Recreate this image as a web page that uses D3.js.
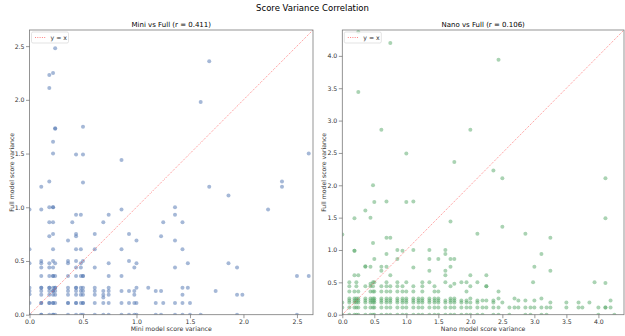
<!DOCTYPE html>
<html>
<head>
<meta charset="utf-8">
<script src="https://cdn.jsdelivr.net/npm/d3@7"></script>
<style>
  body { margin: 0; background: #fff; }
  svg { font-family: "DejaVu Sans", sans-serif; }
</style>
</head>
<body>
<div id="chart"></div>
<script>
// Mini vs Full: columns of x value with the full-model variances seen at it
// (repeated values are overlapping runs that show up darker)
const miniColumns = [
  { x: 0.00, ys: [0, 0.11, 0.19, 0.22, 0.25, 0.48, 0.61, 0.98] },
  { x: 0.11, ys: [0, 0, 0.11, 0.11, 0.185, 0.22, 0.25, 0.25, 0.36, 0.44, 0.48, 0.5, 0.98, 1.19] },
  { x: 0.185, ys: [0, 0.11, 0.11, 0.185, 0.22, 0.25, 0.25, 0.36, 0.44, 0.48, 0.73, 0.86, 1.0, 1.24, 2.11, 2.23] },
  { x: 0.22, ys: [0, 0, 0.11, 0.11, 0.185, 0.22, 0.22, 0.25, 0.36, 0.36, 0.44, 0.5, 0.61, 0.75, 0.86, 1.0, 1.0, 1.5, 1.61, 2.25] },
  { x: 0.24, ys: [0, 0.11, 0.185, 0.22, 0.25, 0.25, 0.36, 0.48, 1.73, 1.735, 2.48] },
  { x: 0.36, ys: [0, 0.11, 0.11, 0.185, 0.22, 0.25, 0.36, 0.48, 0.5, 0.69] },
  { x: 0.40, ys: [0.86] },
  { x: 0.435, ys: [0, 0.11, 0.11, 0.185, 0.22, 0.25, 0.25, 0.36, 0.44, 0.5, 0.61, 0.73, 0.75, 0.93, 1.49] },
  { x: 0.48, ys: [0, 0.11, 0.185, 0.22, 0.25, 0.36, 0.44, 0.48, 0.61, 0.93] },
  { x: 0.50, ys: [0, 0.11, 0.11, 0.185, 0.22, 0.25, 0.36, 0.36, 0.5, 1.23, 1.49, 1.75] },
  { x: 0.61, ys: [0, 0.11, 0.185, 0.22, 0.25, 0.44, 0.61, 0.75] },
  { x: 0.69, ys: [0, 0.11, 0.16, 0.185, 0.22, 0.86] },
  { x: 0.74, ys: [0, 0.11, 0.185, 0.22, 0.25, 0.36, 0.48, 0.93] },
  { x: 0.86, ys: [0, 0.11, 0.22, 0.36, 0.61, 0.98, 1.44] },
  { x: 0.93, ys: [0, 0.11, 0.22, 0.5, 0.75] },
  { x: 0.98, ys: [0, 0.11, 0.185, 0.22, 0.44] },
  { x: 1.00, ys: [0, 0.11, 0.25, 0.48, 0.69] },
  { x: 1.11, ys: [0.25] },
  { x: 1.18, ys: [0, 0.11, 0.22] },
  { x: 1.23, ys: [0, 0.22, 0.73] },
  { x: 1.25, ys: [0.11, 0.86] },
  { x: 1.36, ys: [0, 0.11, 0.44, 0.69, 0.93, 1.0] },
  { x: 1.43, ys: [0, 0.11, 0.185, 0.25, 0.61, 0.86] },
  { x: 1.48, ys: [0.25, 0.48] },
  { x: 1.50, ys: [0, 0.11] },
  { x: 1.60, ys: [0, 1.98] },
  { x: 1.68, ys: [1.19, 2.36] },
  { x: 1.74, ys: [0.22] },
  { x: 1.86, ys: [0.48, 1.11] },
  { x: 1.94, ys: [0, 0.185, 0.44] },
  { x: 1.99, ys: [0.185] },
  { x: 2.23, ys: [0.98] },
  { x: 2.36, ys: [1.19, 1.24] },
  { x: 2.50, ys: [0, 0.36] },
  { x: 2.61, ys: [0.36, 1.5] }
];

// Nano vs Full
const nanoColumns = [
  { x: 0.00, ys: [0, 0.11, 0.19, 1.24] },
  { x: 0.11, ys: [0, 0.11, 0.19, 0.22, 0.25, 0.36, 0.44, 0.5] },
  { x: 0.19, ys: [0, 0.11, 0.19, 0.22, 0.25, 0.36, 0.61, 0.99, 0.99, 1.49] },
  { x: 0.22, ys: [0, 0.11, 0.19, 0.22, 0.25, 0.44, 0.5] },
  { x: 0.25, ys: [0, 0.11, 0.19, 0.22, 0.25, 0.36, 0.61, 3.44, 4.37] },
  { x: 0.36, ys: [0, 0.11, 0.19, 0.22, 0.25, 0.44, 0.74, 0.75, 1.61] },
  { x: 0.44, ys: [0, 0.11, 0.19, 0.22, 0.25, 0.36, 0.44, 0.48, 0.74, 1.5] },
  { x: 0.48, ys: [0, 0.11, 0.19, 0.22, 0.25, 0.36, 0.44, 0.5, 1.11, 2.0] },
  { x: 0.50, ys: [0, 0.11, 0.19, 0.22, 0.25, 0.36, 0.5, 0.86, 1.74] },
  { x: 0.61, ys: [0, 0.11, 0.19, 0.22, 0.25, 0.36, 0.44, 0.68, 0.74, 2.86] },
  { x: 0.69, ys: [0, 0.11, 0.19, 0.22, 0.25, 0.36, 0.44, 0.5, 0.74, 0.94, 1.19, 1.75] },
  { x: 0.75, ys: [0, 0.11, 0.19, 0.22, 0.25, 0.36, 0.44, 0.61, 1.19, 4.2] },
  { x: 0.86, ys: [0, 0.11, 0.19, 0.22, 0.25, 0.36, 0.44, 0.5, 0.86, 1.0] },
  { x: 0.94, ys: [0, 0.11, 0.19, 0.22, 0.25, 0.36, 0.44, 0.99] },
  { x: 1.00, ys: [0, 0.11, 0.19, 0.22, 0.25, 0.36, 0.5, 1.74, 2.49] },
  { x: 1.11, ys: [0, 0.11, 0.19, 0.22, 0.25, 0.36, 0.44, 0.73, 1.0, 1.75] },
  { x: 1.19, ys: [0, 0.11, 0.19, 0.22, 0.25] },
  { x: 1.25, ys: [0, 0.11, 0.19, 0.22, 0.25, 0.36, 0.44, 0.5] },
  { x: 1.36, ys: [0, 0.11, 0.19, 0.22, 0.25, 0.5, 0.68, 0.86, 1.0] },
  { x: 1.44, ys: [0, 0.11, 0.19, 0.22, 0.25, 0.36, 0.44] },
  { x: 1.50, ys: [0, 0.11, 0.19, 0.22, 0.25, 0.36, 0.86] },
  { x: 1.61, ys: [0, 0.11, 0.19, 0.22, 0.5, 0.61, 0.68, 0.94, 1.0] },
  { x: 1.69, ys: [0, 0.11, 0.19, 0.22, 0.25, 0.44, 0.74, 0.86, 1.44] },
  { x: 1.75, ys: [0, 0.11, 0.19, 0.22, 0.25, 0.48, 0.86, 2.36] },
  { x: 1.86, ys: [0, 0.11, 0.19, 0.22, 0.5] },
  { x: 1.94, ys: [0, 0.11, 0.19, 0.22, 0.36, 0.5] },
  { x: 2.00, ys: [0, 0.11, 0.19, 0.25, 0.44, 0.61, 2.86] },
  { x: 2.11, ys: [0, 0.11, 0.19, 0.22, 0.5, 1.25] },
  { x: 2.19, ys: [0, 0.11, 0.22] },
  { x: 2.25, ys: [0.11, 0.22, 0.44, 0.44, 0.61] },
  { x: 2.36, ys: [0, 0.11, 0.19, 0.22, 2.23] },
  { x: 2.44, ys: [0, 0.11, 0.25, 0.36, 3.94] },
  { x: 2.50, ys: [0.19, 1.36, 2.11] },
  { x: 2.61, ys: [0, 0.11] },
  { x: 2.69, ys: [0.11, 0.25] },
  { x: 2.75, ys: [0.11, 0.22] },
  { x: 2.86, ys: [0, 0.11, 0.22, 1.25] },
  { x: 2.94, ys: [0, 0.11] },
  { x: 2.98, ys: [0.5] },
  { x: 3.00, ys: [0.11, 0.22, 0.74] },
  { x: 3.11, ys: [0, 0.11, 0.25, 0.94] },
  { x: 3.19, ys: [0, 0.11] },
  { x: 3.25, ys: [0.11, 0.19, 0.68, 1.19] },
  { x: 3.50, ys: [0.11, 0.19] },
  { x: 3.69, ys: [0.11, 0.19] },
  { x: 3.75, ys: [0.11] },
  { x: 3.86, ys: [0.19] },
  { x: 3.94, ys: [0.5] },
  { x: 4.00, ys: [0, 0.11] },
  { x: 4.11, ys: [0.11, 0.11, 0.49, 1.49, 2.11] },
  { x: 4.19, ys: [0.11, 0.22] },
  { x: 4.25, ys: [0] }
];

const axisLimits = [2.65, 4.4];
const tickValues = [
  [0, 0.5, 1.0, 1.5, 2.0, 2.5],
  [0, 0.5, 1.0, 1.5, 2.0, 2.5, 3.0, 3.5, 4.0]
];
const panelTitles = ["Mini vs Full (r = 0.411)", "Nano vs Full (r = 0.106)"];
const xLabels = ["Mini model score variance", "Nano model score variance"];
const yLabel = "Full model score variance";
const dotColors = ["#4c72b0", "#55a868"];

const width = 625, height = 336;

const svg = d3.select("#chart")
  .append("svg")
  .attr("width", width)
  .attr("height", height);

svg.append("text")
  .attr("x", 312.5)
  .attr("y", 11)
  .attr("text-anchor", "middle")
  .attr("font-size", 8.5)
  .text("Score Variance Correlation");

const panels = [
  { left: 29.5, right: 313, data: miniColumns },
  { left: 342.3, right: 624, data: nanoColumns }
];
const plotTop = 30, plotBottom = 314.7;

panels.forEach((p, i) => {
  const lim = axisLimits[i];
  const x = d3.scaleLinear().domain([0, lim]).range([p.left, p.right]);
  const y = d3.scaleLinear().domain([0, lim]).range([plotBottom, plotTop]);
  const g = svg.append("g");

  g.append("clipPath").attr("id", "clip" + i)
    .append("rect")
    .attr("x", p.left).attr("y", plotTop)
    .attr("width", p.right - p.left).attr("height", plotBottom - plotTop);

  const points = p.data.flatMap(c => c.ys.map(v => ({ x: c.x, y: v })));

  g.append("g")
    .attr("clip-path", `url(#clip${i})`)
    .selectAll("circle")
    .data(points)
    .join("circle")
    .attr("cx", d => x(d.x))
    .attr("cy", d => y(d.y))
    .attr("r", 2)
    .attr("fill", dotColors[i])
    .attr("fill-opacity", 0.5);

  // y = x reference
  g.append("line")
    .attr("x1", x(0)).attr("y1", y(0))
    .attr("x2", x(lim)).attr("y2", y(lim))
    .attr("stroke", "#ff3030")
    .attr("stroke-opacity", 0.6)
    .attr("stroke-width", 1)
    .attr("stroke-dasharray", "1,1.3");

  // frame
  g.append("rect")
    .attr("x", p.left).attr("y", plotTop)
    .attr("width", p.right - p.left).attr("height", plotBottom - plotTop)
    .attr("fill", "none")
    .attr("stroke", "#7a7a7a")
    .attr("stroke-width", 0.8);

  const xAxis = g.append("g")
    .attr("transform", `translate(0,${plotBottom})`)
    .call(d3.axisBottom(x).tickValues(tickValues[i]).tickFormat(d3.format(".1f")).tickSize(3.5).tickPadding(1.5));
  const yAxis = g.append("g")
    .attr("transform", `translate(${p.left},0)`)
    .call(d3.axisLeft(y).tickValues(tickValues[i]).tickFormat(d3.format(".1f")).tickSize(3.5).tickPadding(1.5));

  [xAxis, yAxis].forEach(a => {
    a.select(".domain").remove();
    a.selectAll("line").attr("stroke", "#555").attr("stroke-width", 0.6);
    a.selectAll("text").attr("font-size", 6.2).attr("fill", "#333")
      .attr("font-family", "DejaVu Sans, sans-serif");
  });

  g.append("text")
    .attr("x", (p.left + p.right) / 2)
    .attr("y", 27)
    .attr("text-anchor", "middle")
    .attr("font-size", 7)
    .text(panelTitles[i]);

  g.append("text")
    .attr("x", (p.left + p.right) / 2)
    .attr("y", 331)
    .attr("text-anchor", "middle")
    .attr("font-size", 6.2)
    .attr("fill", "#333")
    .text(xLabels[i]);

  g.append("text")
    .attr("transform", `translate(${p.left - 16},${(plotTop + plotBottom) / 2}) rotate(-90)`)
    .attr("text-anchor", "middle")
    .attr("font-size", 6.2)
    .attr("fill", "#333")
    .text(yLabel);

  // legend
  const lg = g.append("g").attr("transform", `translate(${p.left + 2},${plotTop + 2})`);
  lg.append("rect")
    .attr("width", 37).attr("height", 11).attr("rx", 1.5)
    .attr("fill", "#fff").attr("fill-opacity", 0.8)
    .attr("stroke", "#d0d0d0").attr("stroke-width", 0.6);
  lg.append("line")
    .attr("x1", 3.5).attr("x2", 15).attr("y1", 5.5).attr("y2", 5.5)
    .attr("stroke", "#ff3030").attr("stroke-opacity", 0.6)
    .attr("stroke-width", 1).attr("stroke-dasharray", "1,1.3");
  lg.append("text")
    .attr("x", 19).attr("y", 7.8)
    .attr("font-size", 6.2).attr("fill", "#333")
    .text("y = x");
});
</script>
</body>
</html>
